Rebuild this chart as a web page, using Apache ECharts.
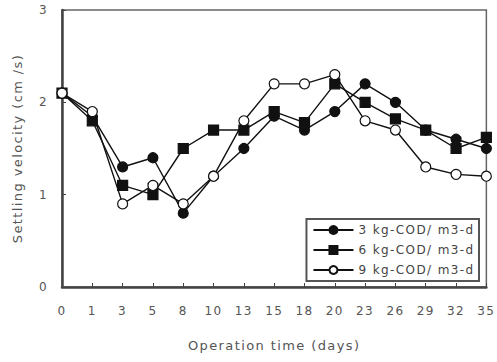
<!DOCTYPE html>
<html><head><meta charset="utf-8">
<script src="https://cdn.jsdelivr.net/npm/echarts@6/dist/echarts.min.js"></script>
<style>html,body{margin:0;padding:0;background:#fff}#c{width:497px;height:362px}
#c svg text{letter-spacing:1.4px}</style>
</head><body><div id="c"></div>
<script>
const categories = ['0','1','3','5','8','10','13','15','18','20','23','26','29','32','35'];
const s3kg = [2.1,1.85,1.3,1.4,0.8,1.2,1.5,1.85,1.7,1.9,2.2,2.0,1.7,1.6,1.5];
const s6kg = [2.1,1.8,1.1,1.0,1.5,1.7,1.7,1.9,1.78,2.2,2.0,1.82,1.7,1.5,1.62];
const s9kg = [2.1,1.9,0.9,1.1,0.9,1.2,1.8,2.2,2.2,2.3,1.8,1.7,1.3,1.22,1.2];
const names = ['3 kg-COD/ m3-d','6 kg-COD/ m3-d','9 kg-COD/ m3-d'];

const font = 'DejaVu Sans, sans-serif';
const txt = '#555';
const chart = echarts.init(document.getElementById('c'), null, {renderer:'svg'});
function ser(name, data, symbol, fill){
  return {name, type:'line', data, symbol, symbolSize: 10,
    lineStyle:{color:'#111', width:1.4},
    itemStyle:{color:fill, borderColor:'#111', borderWidth:1.2},
    emphasis:{disabled:true}, animation:false};
}
chart.setOption({
  animation:false,
  grid:{left:62, right:8, top:10, bottom:75, show:true, borderColor:'#666', borderWidth:1.5, backgroundColor:'transparent'},
  legend:{
    orient:'vertical', right:18, bottom:81, itemWidth:40, itemHeight:10, itemGap:8,
    backgroundColor:'#fff', borderColor:'#555', borderWidth:2, padding:[5,24,5,6],
    textStyle:{fontFamily:font, fontSize:12, color:'#444'},
    data:names
  },
  xAxis:{
    type:'category', data:categories, boundaryGap:false,
    axisLine:{lineStyle:{color:'#444', width:2.5}},
    axisTick:{inside:true, length:4, lineStyle:{color:'#444'}},
    axisLabel:{fontFamily:font, fontSize:12, color:txt, margin:18},
    name:'Operation time (days)', nameLocation:'middle', nameGap:52,
    nameTextStyle:{fontFamily:font, fontSize:13, color:txt}
  },
  yAxis:{
    type:'value', min:0, max:3, interval:1,
    splitLine:{show:false},
    axisLine:{show:true, lineStyle:{color:'#444', width:2.5}},
    axisTick:{show:true, inside:true, length:4, lineStyle:{color:'#444'}},
    axisLabel:{fontFamily:font, fontSize:12, color:txt, margin:14},
    name:'Settling velocity (cm /s)', nameLocation:'middle', nameGap:38,
    nameTextStyle:{fontFamily:font, fontSize:13, color:txt}
  },
  series:[
    ser(names[0], s3kg, 'circle', '#111'),
    ser(names[1], s6kg, 'rect', '#111'),
    ser(names[2], s9kg, 'circle', '#fff')
  ]
});
</script></body></html>
